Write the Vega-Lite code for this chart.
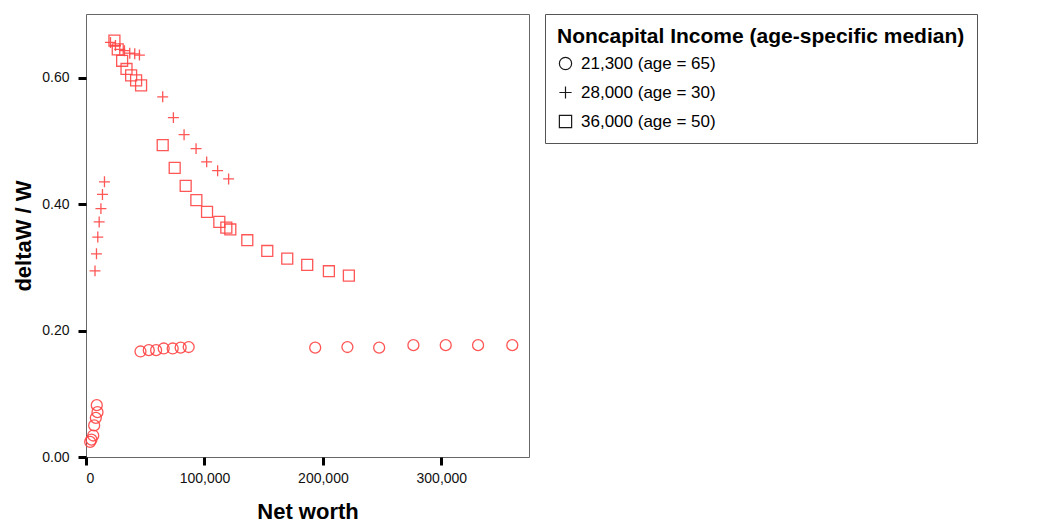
{
  "$schema": "https://vega.github.io/schema/vega-lite/v6.json",
  "width": 443,
  "height": 443,
  "autosize": "none",
  "padding": {"left": 86, "top": 14, "right": 515, "bottom": 69},
  "background": "white",
  "config": {
    "view": {"stroke": "#666", "strokeWidth": 1},
    "font": "Liberation Sans"
  },
  "data": {
    "values": [
      {"g": "21,300 (age = 65)", "x": 3500, "y": 0.024},
      {"g": "21,300 (age = 65)", "x": 4600, "y": 0.0275},
      {"g": "21,300 (age = 65)", "x": 6100, "y": 0.034},
      {"g": "21,300 (age = 65)", "x": 6900, "y": 0.05},
      {"g": "21,300 (age = 65)", "x": 8300, "y": 0.062},
      {"g": "21,300 (age = 65)", "x": 9700, "y": 0.071},
      {"g": "21,300 (age = 65)", "x": 9100, "y": 0.082},
      {"g": "21,300 (age = 65)", "x": 46000, "y": 0.167},
      {"g": "21,300 (age = 65)", "x": 53000, "y": 0.169},
      {"g": "21,300 (age = 65)", "x": 59200, "y": 0.169},
      {"g": "21,300 (age = 65)", "x": 65600, "y": 0.1717},
      {"g": "21,300 (age = 65)", "x": 73200, "y": 0.1717},
      {"g": "21,300 (age = 65)", "x": 79900, "y": 0.173},
      {"g": "21,300 (age = 65)", "x": 86700, "y": 0.174},
      {"g": "21,300 (age = 65)", "x": 193500, "y": 0.173},
      {"g": "21,300 (age = 65)", "x": 220700, "y": 0.174},
      {"g": "21,300 (age = 65)", "x": 247500, "y": 0.173},
      {"g": "21,300 (age = 65)", "x": 276400, "y": 0.177},
      {"g": "21,300 (age = 65)", "x": 303700, "y": 0.177},
      {"g": "21,300 (age = 65)", "x": 331000, "y": 0.177},
      {"g": "21,300 (age = 65)", "x": 359900, "y": 0.177},
      {"g": "28,000 (age = 30)", "x": 7600, "y": 0.2945},
      {"g": "28,000 (age = 30)", "x": 8850, "y": 0.3215},
      {"g": "28,000 (age = 30)", "x": 9950, "y": 0.348},
      {"g": "28,000 (age = 30)", "x": 11130, "y": 0.372},
      {"g": "28,000 (age = 30)", "x": 12600, "y": 0.393},
      {"g": "28,000 (age = 30)", "x": 13900, "y": 0.4155},
      {"g": "28,000 (age = 30)", "x": 15600, "y": 0.4355},
      {"g": "28,000 (age = 30)", "x": 20660, "y": 0.656},
      {"g": "28,000 (age = 30)", "x": 24870, "y": 0.651},
      {"g": "28,000 (age = 30)", "x": 28500, "y": 0.645},
      {"g": "28,000 (age = 30)", "x": 32460, "y": 0.643},
      {"g": "28,000 (age = 30)", "x": 36930, "y": 0.639},
      {"g": "28,000 (age = 30)", "x": 41150, "y": 0.638},
      {"g": "28,000 (age = 30)", "x": 45110, "y": 0.636},
      {"g": "28,000 (age = 30)", "x": 64760, "y": 0.57},
      {"g": "28,000 (age = 30)", "x": 73780, "y": 0.537},
      {"g": "28,000 (age = 30)", "x": 82800, "y": 0.51},
      {"g": "28,000 (age = 30)", "x": 92920, "y": 0.488},
      {"g": "28,000 (age = 30)", "x": 101860, "y": 0.467},
      {"g": "28,000 (age = 30)", "x": 111130, "y": 0.453},
      {"g": "28,000 (age = 30)", "x": 120400, "y": 0.44},
      {"g": "36,000 (age = 50)", "x": 24000, "y": 0.659},
      {"g": "36,000 (age = 50)", "x": 26800, "y": 0.645},
      {"g": "36,000 (age = 50)", "x": 30500, "y": 0.627},
      {"g": "36,000 (age = 50)", "x": 34200, "y": 0.614},
      {"g": "36,000 (age = 50)", "x": 38100, "y": 0.604},
      {"g": "36,000 (age = 50)", "x": 42300, "y": 0.596},
      {"g": "36,000 (age = 50)", "x": 46500, "y": 0.588},
      {"g": "36,000 (age = 50)", "x": 64760, "y": 0.4936},
      {"g": "36,000 (age = 50)", "x": 74870, "y": 0.4576},
      {"g": "36,000 (age = 50)", "x": 84150, "y": 0.4291},
      {"g": "36,000 (age = 50)", "x": 93170, "y": 0.4065},
      {"g": "36,000 (age = 50)", "x": 102190, "y": 0.388},
      {"g": "36,000 (age = 50)", "x": 112560, "y": 0.372},
      {"g": "36,000 (age = 50)", "x": 118470, "y": 0.363},
      {"g": "36,000 (age = 50)", "x": 121840, "y": 0.36},
      {"g": "36,000 (age = 50)", "x": 136170, "y": 0.343},
      {"g": "36,000 (age = 50)", "x": 153040, "y": 0.326},
      {"g": "36,000 (age = 50)", "x": 169900, "y": 0.314},
      {"g": "36,000 (age = 50)", "x": 186760, "y": 0.304},
      {"g": "36,000 (age = 50)", "x": 205060, "y": 0.294},
      {"g": "36,000 (age = 50)", "x": 221920, "y": 0.287}
    ]
  },
  "mark": {"type": "point", "filled": false, "stroke": "#ff4444", "strokeWidth": 1.3, "opacity": 0.9, "size": 120},
  "encoding": {
    "x": {
      "field": "x", "type": "quantitative",
      "scale": {"domain": [0, 374000], "nice": false, "zero": false},
      "axis": {
        "title": "Net worth", "values": [0, 100000, 200000, 300000], "format": ",d",
        "domain": false, "grid": false,
        "tickColor": "black", "tickWidth": 3, "tickSize": 8,
        "labelFontSize": 14, "labelColor": "#111", "labelPadding": 6,
        "titleFontSize": 22, "titleFontWeight": "bold", "titleColor": "black", "titlePadding": 16
      }
    },
    "y": {
      "field": "y", "type": "quantitative",
      "scale": {"domain": [0, 0.701], "nice": false},
      "axis": {
        "title": "deltaW / W", "values": [0, 0.2, 0.4, 0.6], "format": ".2f",
        "domain": false, "grid": false,
        "tickColor": "black", "tickWidth": 3, "tickSize": 8,
        "labelFontSize": 14, "labelColor": "#111", "labelPadding": 9,
        "titleFontSize": 22, "titleFontWeight": "bold", "titleColor": "black", "titlePadding": 6
      }
    },
    "shape": {
      "field": "g", "type": "nominal",
      "scale": {"range": ["circle", "M-1,0H1M0,-1V1", "square"]},
      "legend": {
        "title": "Noncapital Income (age-specific median)",
        "orient": "none", "legendX": 459, "legendY": 0,
        "strokeColor": "#555", "padding": 12,
        "titleFontSize": 21, "titleFontWeight": "bold", "titleColor": "black", "titlePadding": 8,
        "labelFontSize": 17, "labelColor": "black", "labelOffset": 7,
        "symbolStrokeColor": "black", "symbolFillColor": "transparent", "symbolStrokeWidth": 1.2, "symbolSize": 150,
        "rowPadding": 10, "titleLimit": 600, "labelLimit": 400
      }
    }
  }
}
